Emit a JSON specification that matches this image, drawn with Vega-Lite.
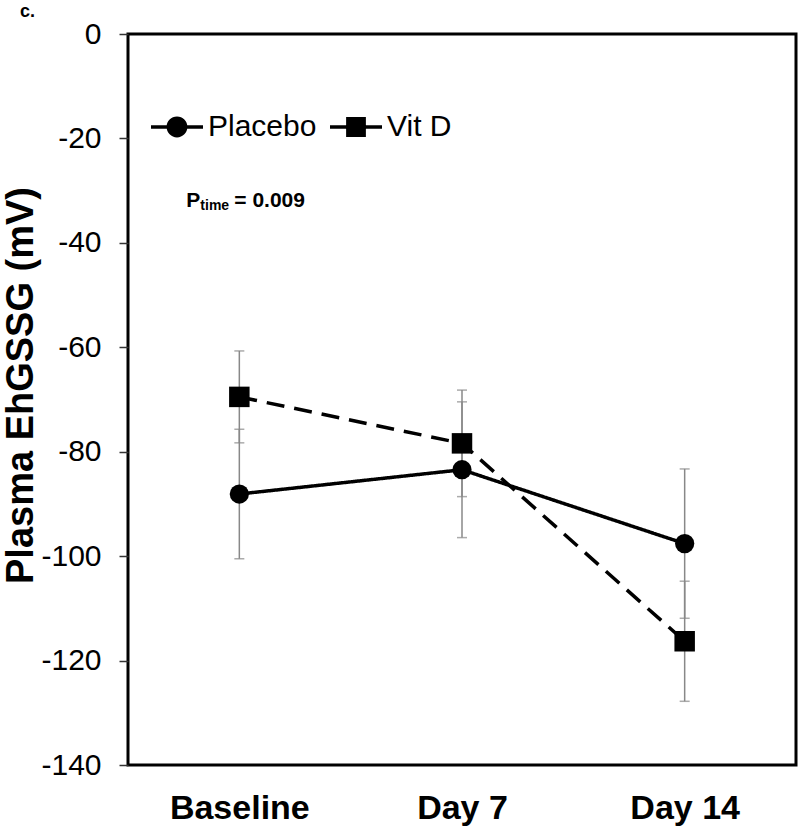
{
  "$schema": "https://vega.github.io/schema/vega-lite/v6.json",
  "width": 668,
  "height": 731,
  "autosize": {"type": "none"},
  "padding": {"left": 128, "top": 34, "right": 4, "bottom": 62},
  "background": "white",
  "config": {
    "font": "Liberation Sans",
    "view": {"stroke": "black", "strokeWidth": 3}
  },
  "title": {
    "text": "c.",
    "anchor": "start",
    "frame": "group",
    "fontSize": 18,
    "fontWeight": "bold",
    "color": "black",
    "dx": -108,
    "offset": -2
  },
  "data": {
    "values": [
      {"group": "Placebo", "time": "Baseline", "mean": -88.1, "sem": 12.4},
      {"group": "Placebo", "time": "Day 7", "mean": -83.45, "sem": 13.0},
      {"group": "Placebo", "time": "Day 14", "mean": -97.6, "sem": 14.3},
      {"group": "Vit D", "time": "Baseline", "mean": -69.5, "sem": 8.8},
      {"group": "Vit D", "time": "Day 7", "mean": -78.4, "sem": 10.2},
      {"group": "Vit D", "time": "Day 14", "mean": -116.3, "sem": 11.5}
    ]
  },
  "encoding": {
    "x": {
      "field": "time",
      "type": "ordinal",
      "sort": ["Baseline", "Day 7", "Day 14"],
      "scale": {"type": "point", "padding": 0.5},
      "axis": {
        "title": null,
        "labelFontSize": 34,
        "labelFontWeight": "bold",
        "labelColor": "black",
        "labelAngle": 0,
        "ticks": false,
        "domain": false,
        "grid": false,
        "labelPadding": 26
      }
    }
  },
  "resolve": {"scale": {"shape": "independent"}},
  "layer": [
    {
      "mark": {"type": "errorbar", "ticks": {"size": 10, "color": "#888888", "strokeWidth": 1.5}, "color": "#888888", "thickness": 1.5},
      "encoding": {
        "y": {
          "field": "mean",
          "type": "quantitative",
          "scale": {"domain": [-140, 0], "nice": false, "zero": false},
          "axis": {
            "title": "Plasma EhGSSG (mV)",
            "values": [-140, -120, -100, -80, -60, -40, -20, 0],
            "labelExpr": "'' + datum.value",
            "labelFontSize": 30,
            "labelColor": "black",
            "tickColor": "#333333",
            "tickSize": 9,
            "tickWidth": 1.5,
            "labelPadding": 18,
            "domain": false,
            "grid": false,
            "titleFontSize": 38,
            "titleFontWeight": "bold",
            "titleColor": "black",
            "titleAngle": -90,
            "titleBaseline": "alphabetic",
            "titleAlign": "center",
            "titleX": -96,
            "titleY": 351
          }
        },
        "yError": {"field": "sem"},
        "detail": {"field": "group"}
      }
    },
    {
      "mark": {"type": "line", "color": "black", "strokeWidth": 3.5},
      "encoding": {
        "y": {"field": "mean", "type": "quantitative"},
        "detail": {"field": "group"},
        "strokeDash": {"condition": {"test": "datum.group === 'Vit D'", "value": [18, 10]}, "value": [1, 0]}
      }
    },
    {
      "mark": {"type": "point", "filled": true, "color": "black", "opacity": 1},
      "encoding": {
        "y": {"field": "mean", "type": "quantitative"},
        "size": {"condition": {"test": "datum.group === 'Placebo'", "value": 370}, "value": 420},
        "shape": {
          "field": "group",
          "type": "nominal",
          "scale": {"domain": ["Placebo", "Vit D"], "range": ["circle", "square"]},
          "legend": null
        }
      }
    },
    {
      "transform": [{"filter": "datum.mean > 0"}],
      "mark": {"type": "point", "filled": true, "color": "black"},
      "encoding": {
        "y": {"field": "mean", "type": "quantitative"},
        "shape": {
          "field": "group",
          "type": "nominal",
          "scale": {
            "domain": ["Placebo", "Vit D"],
            "range": [
              "M-1,-0.065L-0.3,-0.065L-0.3,0.065L-1,0.065Z M0.3,-0.065L1,-0.065L1,0.065L0.3,0.065Z M-0.4,0A0.4,0.4,0,1,1,0.4,0A0.4,0.4,0,1,1,-0.4,0Z",
              "M-1,-0.065L-0.35,-0.065L-0.35,0.065L-1,0.065Z M0.35,-0.065L1,-0.065L1,0.065L0.35,0.065Z M-0.38,-0.38L0.38,-0.38L0.38,0.38L-0.38,0.38Z"
            ]
          },
          "legend": {
            "orient": "none",
            "legendX": 23,
            "legendY": 67,
            "direction": "horizontal",
            "title": null,
            "labelFontSize": 30,
            "labelColor": "black",
            "symbolSize": 2704,
            "labelOffset": 5,
            "columnPadding": 13,
            "padding": 0,
            "symbolStrokeWidth": 0,
            "symbolFillColor": "black",
            "symbolOpacity": 1
          }
        }
      }
    },
    {
      "data": {"values": [{"label": "P"}]},
      "mark": {"type": "text", "fontSize": 21, "fontWeight": "bold", "color": "black", "align": "left", "baseline": "alphabetic", "dx": -53},
      "encoding": {
        "x": {"datum": "Baseline"},
        "y": {"datum": -33.2},
        "text": {"field": "label"}
      }
    },
    {
      "data": {"values": [{"label": "time"}]},
      "mark": {"type": "text", "fontSize": 14, "fontWeight": "bold", "color": "black", "align": "left", "baseline": "alphabetic", "dx": -39, "dy": 3},
      "encoding": {
        "x": {"datum": "Baseline"},
        "y": {"datum": -33.2},
        "text": {"field": "label"}
      }
    },
    {
      "data": {"values": [{"label": "= 0.009"}]},
      "mark": {"type": "text", "fontSize": 21, "fontWeight": "bold", "color": "black", "align": "left", "baseline": "alphabetic", "dx": -5},
      "encoding": {
        "x": {"datum": "Baseline"},
        "y": {"datum": -33.2},
        "text": {"field": "label"}
      }
    }
  ]
}
